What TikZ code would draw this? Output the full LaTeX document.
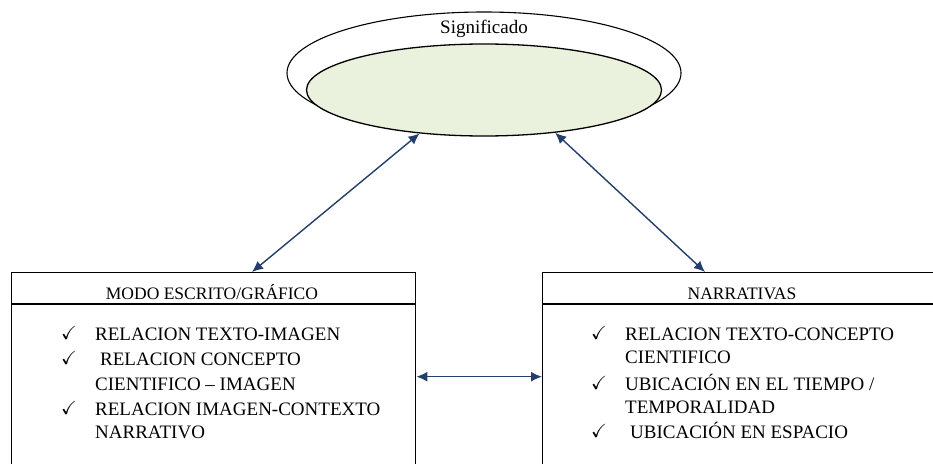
\documentclass[tikz,border=0pt]{standalone}
\usepackage{fontspec}
\setmainfont{Liberation Serif}
\usepackage{amssymb}
\usetikzlibrary{arrows.meta, shapes.geometric}

\definecolor{coregreen}{RGB}{234,241,221}
\definecolor{linkblue}{RGB}{36,62,106}

\tikzset{
	ring/.style={draw, ellipse, line width=1.1pt, minimum width=394pt, minimum height=122pt, inner sep=0pt},
	core/.style={draw, ellipse, line width=1.3pt, fill=coregreen, minimum width=355pt, minimum height=92pt, inner sep=0pt},
	panel/.style={draw, line width=1.4pt, anchor=north west, minimum height=208pt, inner sep=0pt},
	head/.style={anchor=base, inner sep=0pt, font=\fontsize{17.5}{20}\selectfont},
	entry/.style={anchor=base west, inner sep=0pt, font=\fontsize{19}{24}\selectfont},
	tick/.style={anchor=base west, inner sep=0pt, font=\fontsize{19}{19}\selectfont},
	link/.style={{Latex[length=11pt,width=10pt]}-{Latex[length=11pt,width=10pt]}, linkblue, line width=1.4pt}
}

\begin{document}
\begin{tikzpicture}[x=1pt, y=-1pt]
				\clip (0,0) rectangle (933,463);

				% Significado
				\node[ring] (signif) at (484,73) {};
				\node[core] (nucleo) at (484,90) {};
				\node[head, font=\fontsize{19}{20}\selectfont] (signiftxt) at (484,33) {Significado};

				% modo escrito / grafico
				\node[panel, minimum width=404pt] (escrito) at (11,272) {};
				\draw[line width=1.4pt] ([yshift=-32pt]escrito.north west) -- ([yshift=-32pt]escrito.north east);
				\node[head] (escritohead) at (212,299) {MODO ESCRITO/GRÁFICO};

				\node[tick] (et1) at (61,339) {$\checkmark$};
				\node[entry] (e1) at (95,340) {RELACION TEXTO-IMAGEN};
				\node[tick] (et2) at (61,364) {$\checkmark$};
				\node[entry] (e2) at (100,365) {RELACION CONCEPTO};
				\node[entry] (e2b) at (95,390) {CIENTIFICO -- IMAGEN};
				\node[tick] (et3) at (61,414) {$\checkmark$};
				\node[entry] (e3) at (95,415) {RELACION IMAGEN-CONTEXTO};
				\node[entry] (e3b) at (95,438) {NARRATIVO};

				% narrativas
				\node[panel, minimum width=400pt] (narrativas) at (542,272) {};
				\draw[line width=1.4pt] ([yshift=-32pt]narrativas.north west) -- ([yshift=-32pt]narrativas.north east);
				\node[head] (narrativashead) at (742,299) {NARRATIVAS};

				\node[tick] (nt1) at (591,339) {$\checkmark$};
				\node[entry] (n1) at (625,340) {RELACION TEXTO-CONCEPTO};
				\node[entry] (n1b) at (625,363) {CIENTIFICO};
				\node[tick] (nt2) at (591,389) {$\checkmark$};
				\node[entry] (n2) at (625,390) {UBICACIÓN EN EL TIEMPO /};
				\node[entry] (n2b) at (625,413) {TEMPORALIDAD};
				\node[tick] (nt3) at (591,437) {$\checkmark$};
				\node[entry] (n3) at (630,438) {UBICACIÓN EN ESPACIO};

				% flechas
				\draw[link] ([xshift=241pt]escrito.north west) -- (nucleo.214);
				\draw[link] ([xshift=163pt]narrativas.north west) -- (nucleo.329);
				\draw[link] (escrito.east) -- (narrativas.west);
\end{tikzpicture}
\end{document}
